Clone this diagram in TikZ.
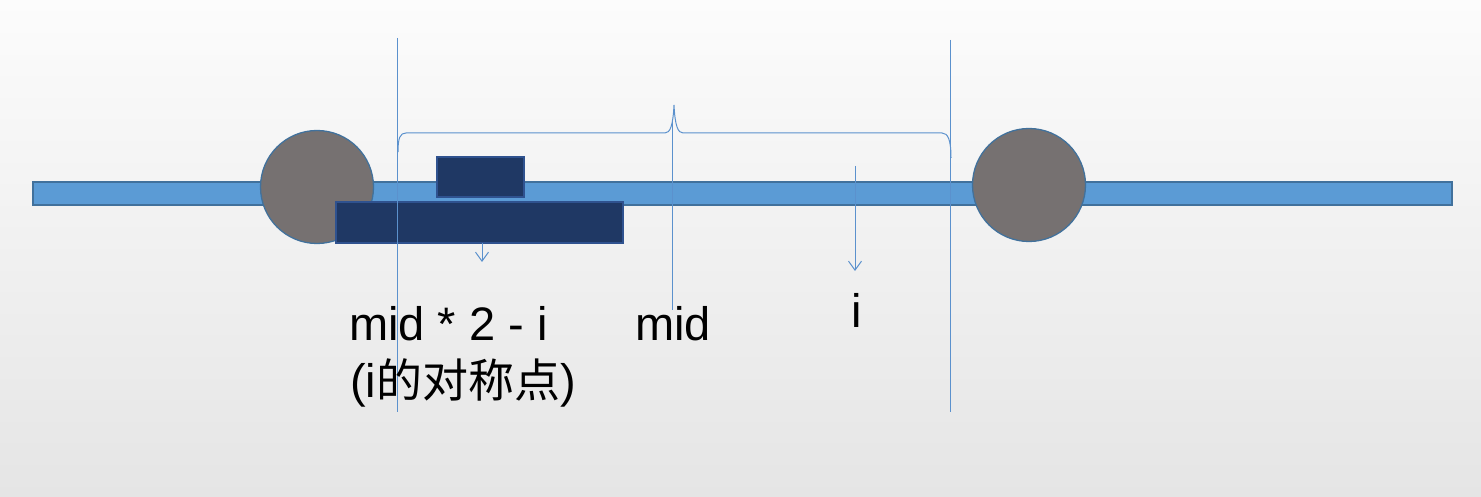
\documentclass[tikz,border=0pt]{standalone}
\usepackage{fontspec}
\setmainfont{Liberation Sans}
\newfontfamily\cjk{Noto Sans CJK SC}
\usetikzlibrary{arrows.meta}
\definecolor{barblue}{RGB}{91,155,213}
\definecolor{edgeblue}{RGB}{65,113,156}
\definecolor{ballgray}{RGB}{118,113,113}
\definecolor{navy}{RGB}{31,56,100}
\definecolor{navyedge}{RGB}{47,82,143}
\definecolor{guide}{RGB}{91,145,205}
\definecolor{bgtop}{RGB}{252,252,252}
\definecolor{bgbot}{RGB}{229,229,229}
\tikzset{
  barbox/.style={draw=edgeblue,fill=barblue,line width=1.6pt,inner sep=0pt,outer sep=0pt},
  ball/.style={circle,draw=edgeblue,fill=ballgray,line width=1.3pt,inner sep=0pt,outer sep=0pt,minimum size=113pt},
  block/.style={draw=navyedge,fill=navy,line width=1.3pt,inner sep=0pt,outer sep=0pt},
  guideline/.style={draw=guide,line width=1pt},
  pointer/.style={draw=guide,line width=1pt,-{Straight Barb[length=9pt,width=13pt,line width=1pt]}},
  lbl/.style={inner sep=0pt,outer sep=0pt,anchor=base west,font=\fontsize{47}{56}\selectfont}
}
\begin{document}
\begin{tikzpicture}[x=1pt,y=-1pt]
\useasboundingbox (0,0) rectangle (1481,497);
\shade[top color=bgtop,bottom color=bgbot] (0,0) rectangle (1481,497);
% bar
\node[barbox,minimum width=1419pt,minimum height=23pt] (bar) at (742.5,193.5) {};
% balls
\node[ball] (lball) at (317,187) {};
\node[ball] (rball) at (1029,185) {};
% blocks
\node[block,minimum width=87pt,minimum height=40pt] (small) at (480.5,177) {};
\node[block,minimum width=287pt,minimum height=41pt] (large) at (479.5,222.5) {};
% guide lines
\coordinate (lt) at (397,38);
\coordinate (lb) at (397,412);
\coordinate (rt) at (950,40);
\coordinate (rb) at (950,412);
\coordinate (mt) at (672,120);
\coordinate (mb) at (672,310);
\draw[guideline] (lt) -- (lb);
\draw[guideline] (rt) -- (rb);
\draw[guideline] (mt) -- (mb);
% brace
\draw[guideline] (398,152) .. controls (398,138) and (400,133) .. (406,133)
  -- (665,133) .. controls (670,133) and (673,126) .. (674,105)
  .. controls (675,126) and (678,133) .. (683,133)
  -- (942,133) .. controls (948,133) and (951,140) .. (951,158);
% pointers
\coordinate (a1s) at (482,243);
\coordinate (a1e) at (482,262);
\coordinate (a2s) at (855,166);
\coordinate (a2e) at (855,271);
\draw[pointer] (a1s) -- (a1e);
\draw[pointer] (a2s) -- (a2e);
% labels
\node[lbl] (sym1) at (349,340) {mid * 2 - i};
\node[lbl] (sym2) at (350,397) {(i{\cjk\fontsize{46}{56}\selectfont 的对称点})};
\node[lbl] (midl) at (635,340) {mid};
\node[lbl] (il) at (851,327) {i};
\end{tikzpicture}
\end{document}
